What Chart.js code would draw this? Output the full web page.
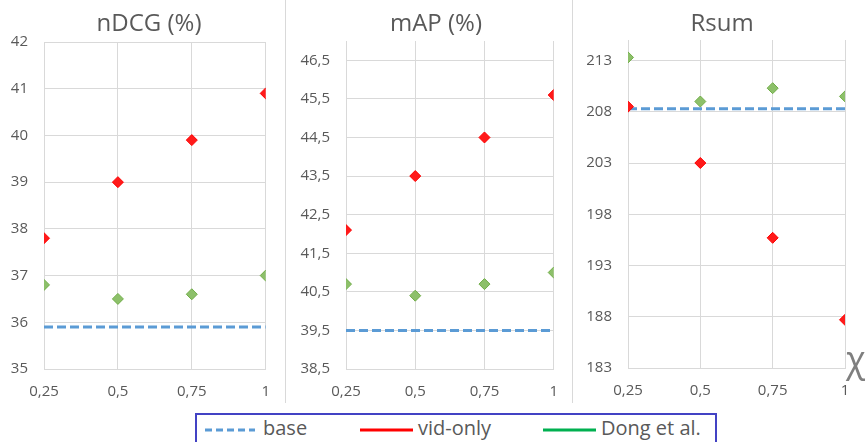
<!DOCTYPE html>
<html>
<head>
<meta charset="utf-8">
<script src="https://cdn.jsdelivr.net/npm/chart.js@4"></script>
<style>
  html, body { margin:0; padding:0; background:#fff; }
  body { width:865px; height:442px; position:relative; overflow:hidden; font-family:"Open Sans", sans-serif; }
  .panel { position:absolute; top:0; height:405px; }
  .sep { position:absolute; top:0; width:1px; height:403px; background:#d9d9d9; }
  .title { position:absolute; top:8px; width:200px; text-align:center; font-size:24px; line-height:28.8px; color:#595959; white-space:nowrap; }
  #legend { position:absolute; left:195px; top:413px; width:522px; height:40px; border:2px solid #4343c4; box-sizing:border-box; }
  .li { position:absolute; top:3px; font-size:20px; color:#595959; line-height:24px; white-space:nowrap; }
  .li svg { position:absolute; top:10px; }
  #chi { position:absolute; left:846px; top:338px; font-size:36px; color:#7f7f7f; line-height:42px; }
</style>
</head>
<body>
<div class="panel" style="left:0;width:284px"><canvas id="c1"></canvas></div>
<div class="sep" style="left:285px"></div>
<div class="panel" style="left:286px;width:286px"><canvas id="c2"></canvas></div>
<div class="sep" style="left:572px"></div>
<div class="panel" style="left:573px;width:292px"><canvas id="c3"></canvas></div>
<div class="title" style="left:49px">nDCG (%)</div>
<div class="title" style="left:336px">mAP (%)</div>
<div class="title" style="left:622px">Rsum</div>
<div id="chi">χ</div>
<div id="legend">
  <div class="li" style="left:8px"><svg width="50" height="4"><line x1="0" y1="2" x2="50" y2="2" stroke="#5B9BD5" stroke-width="3" stroke-dasharray="7,4"/></svg><span style="position:absolute;left:58px;top:-2px">base</span></div>
  <div class="li" style="left:163px"><svg width="53" height="4"><line x1="0" y1="2" x2="53" y2="2" stroke="#FF0000" stroke-width="3"/></svg><span style="position:absolute;left:58px;top:-2px">vid-only</span></div>
  <div class="li" style="left:346px"><svg width="53" height="4"><line x1="0" y1="2" x2="53" y2="2" stroke="#00B050" stroke-width="3"/></svg><span style="position:absolute;left:58px;top:-2px">Dong et al.</span></div>
</div>
<script>
const xValues = [0.25, 0.5, 0.75, 1];
const xTicks = [0.25, 0.5, 0.75, 1];

const ndcgVidOnly = [37.8, 39.0, 39.9, 40.9];
const ndcgDong = [36.8, 36.5, 36.6, 37.0];
const ndcgBase = 35.9;
const ndcgTicks = [35, 36, 37, 38, 39, 40, 41, 42];

const mapVidOnly = [42.1, 43.5, 44.5, 45.6];
const mapDong = [40.7, 40.4, 40.7, 41.0];
const mapBase = 39.5;
const mapTicks = [38.5, 39.5, 40.5, 41.5, 42.5, 43.5, 44.5, 45.5, 46.5];

const rsumVidOnly = [208.5, 203.0, 195.7, 187.7];
const rsumDong = [213.3, 209.0, 210.3, 209.5];
const rsumBase = 208.3;
const rsumTicks = [183, 188, 193, 198, 203, 208, 213];

const FONT = '"Open Sans", sans-serif';
const TXT = '#595959';
const GRID = '#d9d9d9';
const fmt = v => String(v).replace('.', ',');

function pts(ys) { return xValues.map((x, i) => ({x: x, y: ys[i]})); }

function makeChart(id, vid, dong, base, yTicks, yMin, yMax, yAxisW, padRight, padTop, xAxisH) {
  new Chart(document.getElementById(id), {
    type: 'scatter',
    data: {
      datasets: [
        { label: 'vid-only', data: pts(vid), pointStyle: 'rectRot', pointRadius: 5.5,
          backgroundColor: '#FF1A1A', borderColor: '#FF0000', borderWidth: 1, order: 1 },
        { label: 'Dong et al.', data: pts(dong), pointStyle: 'rectRot', pointRadius: 5.5,
          backgroundColor: '#8DC06A', borderColor: '#70AD47', borderWidth: 1, order: 1 },
        { label: 'base', data: xValues.map(x => ({x: x, y: base})), showLine: true, pointRadius: 0,
          borderColor: '#5B9BD5', borderWidth: 3, borderDash: [9, 4], fill: false, order: 2 }
      ]
    },
    options: {
      responsive: true, maintainAspectRatio: false, animation: false,
      layout: { padding: { left: 0, right: padRight, top: padTop, bottom: 0 } },
      plugins: {
        legend: { display: false }, tooltip: { enabled: false }, title: { display: false }
      },
      scales: {
        x: {
          type: 'linear', min: 0.25, max: 1,
          afterBuildTicks: s => { s.ticks = xTicks.map(v => ({value: v})); },
          afterFit: s => { s.height = xAxisH; },
          ticks: { callback: v => fmt(v), color: TXT, font: { family: FONT, size: 15 }, padding: 14, maxRotation: 0, autoSkip: false },
          grid: { color: GRID, lineWidth: 1, drawTicks: false },
          border: { color: GRID, width: 1 }
        },
        y: {
          type: 'linear', min: yMin, max: yMax,
          afterBuildTicks: s => { s.ticks = yTicks.map(v => ({value: v})); },
          afterFit: s => { s.width = yAxisW; },
          ticks: { callback: v => fmt(v), color: TXT, font: { family: FONT, size: 15 }, padding: 16, autoSkip: false },
          grid: { color: GRID, lineWidth: 1, drawTicks: false },
          border: { color: GRID, width: 1 }
        }
      }
    }
  });
}

makeChart('c1', ndcgVidOnly, ndcgDong, ndcgBase, ndcgTicks, 35, 42, 44, 13, 42, 36);
makeChart('c2', mapVidOnly, mapDong, mapBase, mapTicks, 38.5, 47, 60, 13, 41, 36);
makeChart('c3', rsumVidOnly, rsumDong, rsumBase, rsumTicks, 183, 215, 55, 20, 40, 37);
</script>
</body>
</html>
